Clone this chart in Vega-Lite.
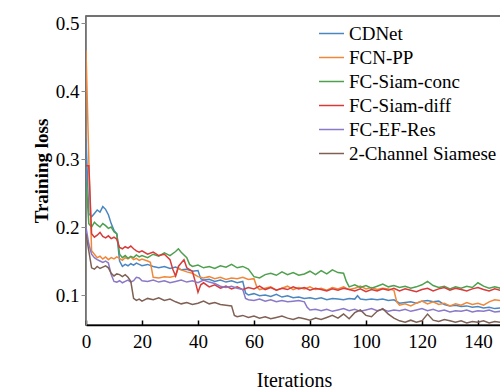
{
"$schema":"https://vega.github.io/schema/vega-lite/v6.json",
"width":416,"height":309,
"autosize":{"type":"none"},
"padding":{"left":86,"top":16,"right":0,"bottom":65},
"view":{"stroke":"#444","strokeWidth":1.5},
"data":{"values":[
{"s":"CDNet","i":0,"v":0.33},{"s":"CDNet","i":1,"v":0.22},{"s":"CDNet","i":2,"v":0.215},{"s":"CDNet","i":3,"v":0.22},{"s":"CDNet","i":4,"v":0.225},{"s":"CDNet","i":5,"v":0.222},{"s":"CDNet","i":6,"v":0.23},{"s":"CDNet","i":7,"v":0.226},{"s":"CDNet","i":8,"v":0.218},{"s":"CDNet","i":9,"v":0.205},{"s":"CDNet","i":10,"v":0.195},{"s":"CDNet","i":11,"v":0.19},{"s":"CDNet","i":12,"v":0.15},{"s":"CDNet","i":13,"v":0.142},{"s":"CDNet","i":14,"v":0.145},{"s":"CDNet","i":15,"v":0.143},{"s":"CDNet","i":16,"v":0.146},{"s":"CDNet","i":17,"v":0.144},{"s":"CDNet","i":18,"v":0.147},{"s":"CDNet","i":19,"v":0.145},{"s":"CDNet","i":20,"v":0.143},{"s":"CDNet","i":22,"v":0.145},{"s":"CDNet","i":24,"v":0.142},{"s":"CDNet","i":26,"v":0.14},{"s":"CDNet","i":28,"v":0.142},{"s":"CDNet","i":30,"v":0.139},{"s":"CDNet","i":32,"v":0.141},{"s":"CDNet","i":34,"v":0.137},{"s":"CDNet","i":36,"v":0.138},{"s":"CDNet","i":38,"v":0.135},{"s":"CDNet","i":40,"v":0.136},{"s":"CDNet","i":41,"v":0.124},{"s":"CDNet","i":42,"v":0.122},{"s":"CDNet","i":44,"v":0.123},{"s":"CDNet","i":46,"v":0.12},{"s":"CDNet","i":48,"v":0.122},{"s":"CDNet","i":50,"v":0.119},{"s":"CDNet","i":52,"v":0.121},{"s":"CDNet","i":54,"v":0.118},{"s":"CDNet","i":56,"v":0.12},{"s":"CDNet","i":57,"v":0.103},{"s":"CDNet","i":58,"v":0.1},{"s":"CDNet","i":60,"v":0.102},{"s":"CDNet","i":62,"v":0.099},{"s":"CDNet","i":64,"v":0.1},{"s":"CDNet","i":66,"v":0.098},{"s":"CDNet","i":68,"v":0.101},{"s":"CDNet","i":70,"v":0.097},{"s":"CDNet","i":72,"v":0.099},{"s":"CDNet","i":74,"v":0.096},{"s":"CDNet","i":76,"v":0.097},{"s":"CDNet","i":78,"v":0.095},{"s":"CDNet","i":80,"v":0.096},{"s":"CDNet","i":82,"v":0.094},{"s":"CDNet","i":84,"v":0.096},{"s":"CDNet","i":86,"v":0.093},{"s":"CDNet","i":88,"v":0.095},{"s":"CDNet","i":90,"v":0.094},{"s":"CDNet","i":92,"v":0.093},{"s":"CDNet","i":94,"v":0.095},{"s":"CDNet","i":96,"v":0.094},{"s":"CDNet","i":97,"v":0.099},{"s":"CDNet","i":98,"v":0.094},{"s":"CDNet","i":100,"v":0.093},{"s":"CDNet","i":102,"v":0.094},{"s":"CDNet","i":104,"v":0.093},{"s":"CDNet","i":106,"v":0.094},{"s":"CDNet","i":108,"v":0.092},{"s":"CDNet","i":110,"v":0.093},{"s":"CDNet","i":112,"v":0.088},{"s":"CDNet","i":114,"v":0.089},{"s":"CDNet","i":116,"v":0.09},{"s":"CDNet","i":118,"v":0.088},{"s":"CDNet","i":120,"v":0.091},{"s":"CDNet","i":122,"v":0.092},{"s":"CDNet","i":124,"v":0.09},{"s":"CDNet","i":126,"v":0.091},{"s":"CDNet","i":128,"v":0.086},{"s":"CDNet","i":130,"v":0.084},{"s":"CDNet","i":132,"v":0.085},{"s":"CDNet","i":134,"v":0.083},{"s":"CDNet","i":136,"v":0.084},{"s":"CDNet","i":138,"v":0.082},{"s":"CDNet","i":140,"v":0.083},{"s":"CDNet","i":142,"v":0.081},{"s":"CDNet","i":144,"v":0.082},{"s":"CDNet","i":146,"v":0.08},{"s":"CDNet","i":148,"v":0.081},
{"s":"FCN-PP","i":0,"v":0.46},{"s":"FCN-PP","i":1,"v":0.3},{"s":"FCN-PP","i":2,"v":0.165},{"s":"FCN-PP","i":3,"v":0.16},{"s":"FCN-PP","i":4,"v":0.155},{"s":"FCN-PP","i":5,"v":0.157},{"s":"FCN-PP","i":6,"v":0.153},{"s":"FCN-PP","i":7,"v":0.156},{"s":"FCN-PP","i":8,"v":0.152},{"s":"FCN-PP","i":9,"v":0.155},{"s":"FCN-PP","i":10,"v":0.153},{"s":"FCN-PP","i":11,"v":0.156},{"s":"FCN-PP","i":12,"v":0.154},{"s":"FCN-PP","i":13,"v":0.151},{"s":"FCN-PP","i":14,"v":0.155},{"s":"FCN-PP","i":15,"v":0.153},{"s":"FCN-PP","i":16,"v":0.156},{"s":"FCN-PP","i":17,"v":0.152},{"s":"FCN-PP","i":18,"v":0.154},{"s":"FCN-PP","i":19,"v":0.151},{"s":"FCN-PP","i":20,"v":0.153},{"s":"FCN-PP","i":22,"v":0.15},{"s":"FCN-PP","i":23,"v":0.148},{"s":"FCN-PP","i":24,"v":0.126},{"s":"FCN-PP","i":26,"v":0.125},{"s":"FCN-PP","i":28,"v":0.127},{"s":"FCN-PP","i":30,"v":0.126},{"s":"FCN-PP","i":32,"v":0.128},{"s":"FCN-PP","i":33,"v":0.14},{"s":"FCN-PP","i":34,"v":0.137},{"s":"FCN-PP","i":36,"v":0.134},{"s":"FCN-PP","i":38,"v":0.132},{"s":"FCN-PP","i":40,"v":0.127},{"s":"FCN-PP","i":42,"v":0.125},{"s":"FCN-PP","i":44,"v":0.127},{"s":"FCN-PP","i":46,"v":0.124},{"s":"FCN-PP","i":48,"v":0.126},{"s":"FCN-PP","i":50,"v":0.123},{"s":"FCN-PP","i":52,"v":0.125},{"s":"FCN-PP","i":54,"v":0.124},{"s":"FCN-PP","i":56,"v":0.126},{"s":"FCN-PP","i":58,"v":0.123},{"s":"FCN-PP","i":60,"v":0.124},{"s":"FCN-PP","i":61,"v":0.112},{"s":"FCN-PP","i":62,"v":0.108},{"s":"FCN-PP","i":64,"v":0.11},{"s":"FCN-PP","i":66,"v":0.112},{"s":"FCN-PP","i":68,"v":0.107},{"s":"FCN-PP","i":70,"v":0.11},{"s":"FCN-PP","i":72,"v":0.113},{"s":"FCN-PP","i":74,"v":0.108},{"s":"FCN-PP","i":76,"v":0.111},{"s":"FCN-PP","i":78,"v":0.109},{"s":"FCN-PP","i":80,"v":0.112},{"s":"FCN-PP","i":82,"v":0.108},{"s":"FCN-PP","i":84,"v":0.11},{"s":"FCN-PP","i":86,"v":0.107},{"s":"FCN-PP","i":88,"v":0.111},{"s":"FCN-PP","i":90,"v":0.109},{"s":"FCN-PP","i":92,"v":0.112},{"s":"FCN-PP","i":94,"v":0.108},{"s":"FCN-PP","i":96,"v":0.11},{"s":"FCN-PP","i":98,"v":0.113},{"s":"FCN-PP","i":100,"v":0.109},{"s":"FCN-PP","i":102,"v":0.111},{"s":"FCN-PP","i":104,"v":0.108},{"s":"FCN-PP","i":106,"v":0.11},{"s":"FCN-PP","i":108,"v":0.109},{"s":"FCN-PP","i":110,"v":0.107},{"s":"FCN-PP","i":111,"v":0.09},{"s":"FCN-PP","i":112,"v":0.085},{"s":"FCN-PP","i":114,"v":0.087},{"s":"FCN-PP","i":116,"v":0.084},{"s":"FCN-PP","i":118,"v":0.088},{"s":"FCN-PP","i":120,"v":0.091},{"s":"FCN-PP","i":122,"v":0.087},{"s":"FCN-PP","i":124,"v":0.09},{"s":"FCN-PP","i":126,"v":0.086},{"s":"FCN-PP","i":128,"v":0.088},{"s":"FCN-PP","i":130,"v":0.084},{"s":"FCN-PP","i":132,"v":0.087},{"s":"FCN-PP","i":134,"v":0.085},{"s":"FCN-PP","i":136,"v":0.089},{"s":"FCN-PP","i":138,"v":0.086},{"s":"FCN-PP","i":140,"v":0.088},{"s":"FCN-PP","i":142,"v":0.085},{"s":"FCN-PP","i":144,"v":0.09},{"s":"FCN-PP","i":146,"v":0.093},{"s":"FCN-PP","i":148,"v":0.092},
{"s":"FC-Siam-conc","i":0,"v":0.27},{"s":"FC-Siam-conc","i":1,"v":0.205},{"s":"FC-Siam-conc","i":2,"v":0.2},{"s":"FC-Siam-conc","i":3,"v":0.207},{"s":"FC-Siam-conc","i":4,"v":0.203},{"s":"FC-Siam-conc","i":5,"v":0.2},{"s":"FC-Siam-conc","i":6,"v":0.205},{"s":"FC-Siam-conc","i":7,"v":0.202},{"s":"FC-Siam-conc","i":8,"v":0.198},{"s":"FC-Siam-conc","i":9,"v":0.2},{"s":"FC-Siam-conc","i":10,"v":0.193},{"s":"FC-Siam-conc","i":11,"v":0.19},{"s":"FC-Siam-conc","i":12,"v":0.16},{"s":"FC-Siam-conc","i":13,"v":0.155},{"s":"FC-Siam-conc","i":14,"v":0.158},{"s":"FC-Siam-conc","i":15,"v":0.154},{"s":"FC-Siam-conc","i":16,"v":0.157},{"s":"FC-Siam-conc","i":17,"v":0.155},{"s":"FC-Siam-conc","i":18,"v":0.159},{"s":"FC-Siam-conc","i":19,"v":0.156},{"s":"FC-Siam-conc","i":20,"v":0.158},{"s":"FC-Siam-conc","i":22,"v":0.155},{"s":"FC-Siam-conc","i":24,"v":0.16},{"s":"FC-Siam-conc","i":26,"v":0.157},{"s":"FC-Siam-conc","i":28,"v":0.162},{"s":"FC-Siam-conc","i":30,"v":0.158},{"s":"FC-Siam-conc","i":32,"v":0.164},{"s":"FC-Siam-conc","i":33,"v":0.168},{"s":"FC-Siam-conc","i":34,"v":0.163},{"s":"FC-Siam-conc","i":36,"v":0.155},{"s":"FC-Siam-conc","i":37,"v":0.145},{"s":"FC-Siam-conc","i":38,"v":0.142},{"s":"FC-Siam-conc","i":40,"v":0.144},{"s":"FC-Siam-conc","i":42,"v":0.14},{"s":"FC-Siam-conc","i":44,"v":0.142},{"s":"FC-Siam-conc","i":46,"v":0.139},{"s":"FC-Siam-conc","i":48,"v":0.143},{"s":"FC-Siam-conc","i":50,"v":0.141},{"s":"FC-Siam-conc","i":52,"v":0.145},{"s":"FC-Siam-conc","i":54,"v":0.14},{"s":"FC-Siam-conc","i":56,"v":0.142},{"s":"FC-Siam-conc","i":58,"v":0.138},{"s":"FC-Siam-conc","i":60,"v":0.127},{"s":"FC-Siam-conc","i":62,"v":0.125},{"s":"FC-Siam-conc","i":64,"v":0.13},{"s":"FC-Siam-conc","i":66,"v":0.132},{"s":"FC-Siam-conc","i":68,"v":0.129},{"s":"FC-Siam-conc","i":70,"v":0.134},{"s":"FC-Siam-conc","i":72,"v":0.13},{"s":"FC-Siam-conc","i":74,"v":0.133},{"s":"FC-Siam-conc","i":76,"v":0.129},{"s":"FC-Siam-conc","i":78,"v":0.131},{"s":"FC-Siam-conc","i":80,"v":0.135},{"s":"FC-Siam-conc","i":82,"v":0.13},{"s":"FC-Siam-conc","i":84,"v":0.136},{"s":"FC-Siam-conc","i":86,"v":0.131},{"s":"FC-Siam-conc","i":88,"v":0.137},{"s":"FC-Siam-conc","i":90,"v":0.133},{"s":"FC-Siam-conc","i":92,"v":0.132},{"s":"FC-Siam-conc","i":93,"v":0.12},{"s":"FC-Siam-conc","i":94,"v":0.112},{"s":"FC-Siam-conc","i":96,"v":0.115},{"s":"FC-Siam-conc","i":98,"v":0.111},{"s":"FC-Siam-conc","i":100,"v":0.114},{"s":"FC-Siam-conc","i":102,"v":0.11},{"s":"FC-Siam-conc","i":104,"v":0.113},{"s":"FC-Siam-conc","i":106,"v":0.116},{"s":"FC-Siam-conc","i":108,"v":0.112},{"s":"FC-Siam-conc","i":110,"v":0.114},{"s":"FC-Siam-conc","i":112,"v":0.111},{"s":"FC-Siam-conc","i":114,"v":0.113},{"s":"FC-Siam-conc","i":116,"v":0.11},{"s":"FC-Siam-conc","i":118,"v":0.112},{"s":"FC-Siam-conc","i":120,"v":0.115},{"s":"FC-Siam-conc","i":122,"v":0.12},{"s":"FC-Siam-conc","i":124,"v":0.114},{"s":"FC-Siam-conc","i":126,"v":0.111},{"s":"FC-Siam-conc","i":128,"v":0.113},{"s":"FC-Siam-conc","i":130,"v":0.109},{"s":"FC-Siam-conc","i":132,"v":0.112},{"s":"FC-Siam-conc","i":134,"v":0.11},{"s":"FC-Siam-conc","i":136,"v":0.113},{"s":"FC-Siam-conc","i":138,"v":0.111},{"s":"FC-Siam-conc","i":140,"v":0.118},{"s":"FC-Siam-conc","i":142,"v":0.113},{"s":"FC-Siam-conc","i":144,"v":0.11},{"s":"FC-Siam-conc","i":146,"v":0.112},{"s":"FC-Siam-conc","i":148,"v":0.11},
{"s":"FC-Siam-diff","i":0,"v":0.29},{"s":"FC-Siam-diff","i":1,"v":0.29},{"s":"FC-Siam-diff","i":2,"v":0.19},{"s":"FC-Siam-diff","i":3,"v":0.185},{"s":"FC-Siam-diff","i":4,"v":0.188},{"s":"FC-Siam-diff","i":5,"v":0.192},{"s":"FC-Siam-diff","i":6,"v":0.186},{"s":"FC-Siam-diff","i":7,"v":0.184},{"s":"FC-Siam-diff","i":8,"v":0.187},{"s":"FC-Siam-diff","i":9,"v":0.183},{"s":"FC-Siam-diff","i":10,"v":0.185},{"s":"FC-Siam-diff","i":11,"v":0.182},{"s":"FC-Siam-diff","i":12,"v":0.17},{"s":"FC-Siam-diff","i":13,"v":0.168},{"s":"FC-Siam-diff","i":14,"v":0.171},{"s":"FC-Siam-diff","i":15,"v":0.169},{"s":"FC-Siam-diff","i":16,"v":0.172},{"s":"FC-Siam-diff","i":17,"v":0.168},{"s":"FC-Siam-diff","i":18,"v":0.165},{"s":"FC-Siam-diff","i":19,"v":0.163},{"s":"FC-Siam-diff","i":20,"v":0.165},{"s":"FC-Siam-diff","i":22,"v":0.16},{"s":"FC-Siam-diff","i":24,"v":0.163},{"s":"FC-Siam-diff","i":26,"v":0.158},{"s":"FC-Siam-diff","i":28,"v":0.16},{"s":"FC-Siam-diff","i":30,"v":0.152},{"s":"FC-Siam-diff","i":31,"v":0.138},{"s":"FC-Siam-diff","i":32,"v":0.128},{"s":"FC-Siam-diff","i":33,"v":0.142},{"s":"FC-Siam-diff","i":34,"v":0.147},{"s":"FC-Siam-diff","i":35,"v":0.152},{"s":"FC-Siam-diff","i":36,"v":0.14},{"s":"FC-Siam-diff","i":38,"v":0.135},{"s":"FC-Siam-diff","i":39,"v":0.12},{"s":"FC-Siam-diff","i":40,"v":0.104},{"s":"FC-Siam-diff","i":41,"v":0.115},{"s":"FC-Siam-diff","i":42,"v":0.118},{"s":"FC-Siam-diff","i":44,"v":0.112},{"s":"FC-Siam-diff","i":46,"v":0.115},{"s":"FC-Siam-diff","i":48,"v":0.11},{"s":"FC-Siam-diff","i":50,"v":0.113},{"s":"FC-Siam-diff","i":52,"v":0.109},{"s":"FC-Siam-diff","i":54,"v":0.112},{"s":"FC-Siam-diff","i":56,"v":0.108},{"s":"FC-Siam-diff","i":58,"v":0.111},{"s":"FC-Siam-diff","i":60,"v":0.109},{"s":"FC-Siam-diff","i":62,"v":0.113},{"s":"FC-Siam-diff","i":64,"v":0.108},{"s":"FC-Siam-diff","i":66,"v":0.111},{"s":"FC-Siam-diff","i":68,"v":0.107},{"s":"FC-Siam-diff","i":70,"v":0.11},{"s":"FC-Siam-diff","i":72,"v":0.108},{"s":"FC-Siam-diff","i":74,"v":0.112},{"s":"FC-Siam-diff","i":76,"v":0.109},{"s":"FC-Siam-diff","i":78,"v":0.111},{"s":"FC-Siam-diff","i":80,"v":0.107},{"s":"FC-Siam-diff","i":82,"v":0.11},{"s":"FC-Siam-diff","i":84,"v":0.108},{"s":"FC-Siam-diff","i":86,"v":0.106},{"s":"FC-Siam-diff","i":88,"v":0.109},{"s":"FC-Siam-diff","i":90,"v":0.107},{"s":"FC-Siam-diff","i":92,"v":0.11},{"s":"FC-Siam-diff","i":94,"v":0.108},{"s":"FC-Siam-diff","i":96,"v":0.106},{"s":"FC-Siam-diff","i":98,"v":0.109},{"s":"FC-Siam-diff","i":100,"v":0.105},{"s":"FC-Siam-diff","i":102,"v":0.108},{"s":"FC-Siam-diff","i":104,"v":0.106},{"s":"FC-Siam-diff","i":106,"v":0.109},{"s":"FC-Siam-diff","i":108,"v":0.107},{"s":"FC-Siam-diff","i":110,"v":0.11},{"s":"FC-Siam-diff","i":112,"v":0.106},{"s":"FC-Siam-diff","i":114,"v":0.109},{"s":"FC-Siam-diff","i":116,"v":0.107},{"s":"FC-Siam-diff","i":118,"v":0.105},{"s":"FC-Siam-diff","i":120,"v":0.108},{"s":"FC-Siam-diff","i":122,"v":0.11},{"s":"FC-Siam-diff","i":124,"v":0.106},{"s":"FC-Siam-diff","i":126,"v":0.109},{"s":"FC-Siam-diff","i":128,"v":0.111},{"s":"FC-Siam-diff","i":130,"v":0.107},{"s":"FC-Siam-diff","i":132,"v":0.11},{"s":"FC-Siam-diff","i":134,"v":0.108},{"s":"FC-Siam-diff","i":136,"v":0.106},{"s":"FC-Siam-diff","i":138,"v":0.109},{"s":"FC-Siam-diff","i":140,"v":0.111},{"s":"FC-Siam-diff","i":142,"v":0.108},{"s":"FC-Siam-diff","i":144,"v":0.106},{"s":"FC-Siam-diff","i":146,"v":0.109},{"s":"FC-Siam-diff","i":148,"v":0.107},
{"s":"FC-EF-Res","i":0,"v":0.2},{"s":"FC-EF-Res","i":1,"v":0.175},{"s":"FC-EF-Res","i":2,"v":0.16},{"s":"FC-EF-Res","i":3,"v":0.155},{"s":"FC-EF-Res","i":4,"v":0.152},{"s":"FC-EF-Res","i":5,"v":0.15},{"s":"FC-EF-Res","i":6,"v":0.148},{"s":"FC-EF-Res","i":7,"v":0.15},{"s":"FC-EF-Res","i":8,"v":0.147},{"s":"FC-EF-Res","i":9,"v":0.13},{"s":"FC-EF-Res","i":10,"v":0.12},{"s":"FC-EF-Res","i":11,"v":0.119},{"s":"FC-EF-Res","i":12,"v":0.121},{"s":"FC-EF-Res","i":13,"v":0.118},{"s":"FC-EF-Res","i":14,"v":0.12},{"s":"FC-EF-Res","i":15,"v":0.122},{"s":"FC-EF-Res","i":16,"v":0.119},{"s":"FC-EF-Res","i":17,"v":0.121},{"s":"FC-EF-Res","i":18,"v":0.126},{"s":"FC-EF-Res","i":19,"v":0.125},{"s":"FC-EF-Res","i":20,"v":0.121},{"s":"FC-EF-Res","i":22,"v":0.12},{"s":"FC-EF-Res","i":24,"v":0.122},{"s":"FC-EF-Res","i":26,"v":0.119},{"s":"FC-EF-Res","i":28,"v":0.121},{"s":"FC-EF-Res","i":30,"v":0.118},{"s":"FC-EF-Res","i":32,"v":0.12},{"s":"FC-EF-Res","i":34,"v":0.122},{"s":"FC-EF-Res","i":36,"v":0.119},{"s":"FC-EF-Res","i":38,"v":0.121},{"s":"FC-EF-Res","i":40,"v":0.118},{"s":"FC-EF-Res","i":42,"v":0.122},{"s":"FC-EF-Res","i":44,"v":0.119},{"s":"FC-EF-Res","i":46,"v":0.117},{"s":"FC-EF-Res","i":48,"v":0.113},{"s":"FC-EF-Res","i":50,"v":0.111},{"s":"FC-EF-Res","i":52,"v":0.113},{"s":"FC-EF-Res","i":54,"v":0.11},{"s":"FC-EF-Res","i":56,"v":0.108},{"s":"FC-EF-Res","i":57,"v":0.095},{"s":"FC-EF-Res","i":58,"v":0.093},{"s":"FC-EF-Res","i":60,"v":0.092},{"s":"FC-EF-Res","i":62,"v":0.094},{"s":"FC-EF-Res","i":64,"v":0.091},{"s":"FC-EF-Res","i":66,"v":0.093},{"s":"FC-EF-Res","i":68,"v":0.09},{"s":"FC-EF-Res","i":70,"v":0.092},{"s":"FC-EF-Res","i":72,"v":0.09},{"s":"FC-EF-Res","i":74,"v":0.091},{"s":"FC-EF-Res","i":76,"v":0.092},{"s":"FC-EF-Res","i":78,"v":0.09},{"s":"FC-EF-Res","i":79,"v":0.082},{"s":"FC-EF-Res","i":80,"v":0.078},{"s":"FC-EF-Res","i":82,"v":0.079},{"s":"FC-EF-Res","i":84,"v":0.077},{"s":"FC-EF-Res","i":86,"v":0.079},{"s":"FC-EF-Res","i":88,"v":0.076},{"s":"FC-EF-Res","i":90,"v":0.078},{"s":"FC-EF-Res","i":92,"v":0.08},{"s":"FC-EF-Res","i":94,"v":0.077},{"s":"FC-EF-Res","i":96,"v":0.079},{"s":"FC-EF-Res","i":98,"v":0.076},{"s":"FC-EF-Res","i":100,"v":0.078},{"s":"FC-EF-Res","i":102,"v":0.08},{"s":"FC-EF-Res","i":104,"v":0.077},{"s":"FC-EF-Res","i":106,"v":0.079},{"s":"FC-EF-Res","i":108,"v":0.076},{"s":"FC-EF-Res","i":110,"v":0.078},{"s":"FC-EF-Res","i":112,"v":0.077},{"s":"FC-EF-Res","i":114,"v":0.079},{"s":"FC-EF-Res","i":116,"v":0.076},{"s":"FC-EF-Res","i":118,"v":0.078},{"s":"FC-EF-Res","i":120,"v":0.08},{"s":"FC-EF-Res","i":122,"v":0.077},{"s":"FC-EF-Res","i":124,"v":0.079},{"s":"FC-EF-Res","i":126,"v":0.076},{"s":"FC-EF-Res","i":128,"v":0.078},{"s":"FC-EF-Res","i":130,"v":0.075},{"s":"FC-EF-Res","i":132,"v":0.077},{"s":"FC-EF-Res","i":134,"v":0.076},{"s":"FC-EF-Res","i":136,"v":0.078},{"s":"FC-EF-Res","i":138,"v":0.075},{"s":"FC-EF-Res","i":140,"v":0.077},{"s":"FC-EF-Res","i":142,"v":0.076},{"s":"FC-EF-Res","i":144,"v":0.078},{"s":"FC-EF-Res","i":146,"v":0.075},{"s":"FC-EF-Res","i":148,"v":0.076},
{"s":"2-Channel Siamese","i":0,"v":0.19},{"s":"2-Channel Siamese","i":1,"v":0.165},{"s":"2-Channel Siamese","i":2,"v":0.14},{"s":"2-Channel Siamese","i":3,"v":0.138},{"s":"2-Channel Siamese","i":4,"v":0.142},{"s":"2-Channel Siamese","i":5,"v":0.139},{"s":"2-Channel Siamese","i":6,"v":0.141},{"s":"2-Channel Siamese","i":7,"v":0.143},{"s":"2-Channel Siamese","i":8,"v":0.14},{"s":"2-Channel Siamese","i":9,"v":0.132},{"s":"2-Channel Siamese","i":10,"v":0.128},{"s":"2-Channel Siamese","i":11,"v":0.131},{"s":"2-Channel Siamese","i":12,"v":0.13},{"s":"2-Channel Siamese","i":13,"v":0.127},{"s":"2-Channel Siamese","i":14,"v":0.13},{"s":"2-Channel Siamese","i":15,"v":0.126},{"s":"2-Channel Siamese","i":16,"v":0.12},{"s":"2-Channel Siamese","i":17,"v":0.095},{"s":"2-Channel Siamese","i":18,"v":0.092},{"s":"2-Channel Siamese","i":19,"v":0.094},{"s":"2-Channel Siamese","i":20,"v":0.091},{"s":"2-Channel Siamese","i":22,"v":0.095},{"s":"2-Channel Siamese","i":24,"v":0.093},{"s":"2-Channel Siamese","i":26,"v":0.096},{"s":"2-Channel Siamese","i":28,"v":0.092},{"s":"2-Channel Siamese","i":30,"v":0.094},{"s":"2-Channel Siamese","i":32,"v":0.09},{"s":"2-Channel Siamese","i":34,"v":0.087},{"s":"2-Channel Siamese","i":36,"v":0.089},{"s":"2-Channel Siamese","i":38,"v":0.086},{"s":"2-Channel Siamese","i":40,"v":0.088},{"s":"2-Channel Siamese","i":42,"v":0.091},{"s":"2-Channel Siamese","i":44,"v":0.087},{"s":"2-Channel Siamese","i":46,"v":0.089},{"s":"2-Channel Siamese","i":48,"v":0.086},{"s":"2-Channel Siamese","i":50,"v":0.085},{"s":"2-Channel Siamese","i":52,"v":0.084},{"s":"2-Channel Siamese","i":53,"v":0.07},{"s":"2-Channel Siamese","i":54,"v":0.068},{"s":"2-Channel Siamese","i":56,"v":0.07},{"s":"2-Channel Siamese","i":58,"v":0.067},{"s":"2-Channel Siamese","i":60,"v":0.069},{"s":"2-Channel Siamese","i":62,"v":0.066},{"s":"2-Channel Siamese","i":64,"v":0.068},{"s":"2-Channel Siamese","i":66,"v":0.065},{"s":"2-Channel Siamese","i":68,"v":0.067},{"s":"2-Channel Siamese","i":70,"v":0.069},{"s":"2-Channel Siamese","i":72,"v":0.066},{"s":"2-Channel Siamese","i":74,"v":0.064},{"s":"2-Channel Siamese","i":76,"v":0.067},{"s":"2-Channel Siamese","i":78,"v":0.065},{"s":"2-Channel Siamese","i":80,"v":0.063},{"s":"2-Channel Siamese","i":82,"v":0.066},{"s":"2-Channel Siamese","i":84,"v":0.064},{"s":"2-Channel Siamese","i":86,"v":0.067},{"s":"2-Channel Siamese","i":88,"v":0.07},{"s":"2-Channel Siamese","i":90,"v":0.066},{"s":"2-Channel Siamese","i":92,"v":0.072},{"s":"2-Channel Siamese","i":94,"v":0.065},{"s":"2-Channel Siamese","i":96,"v":0.074},{"s":"2-Channel Siamese","i":98,"v":0.078},{"s":"2-Channel Siamese","i":100,"v":0.07},{"s":"2-Channel Siamese","i":102,"v":0.068},{"s":"2-Channel Siamese","i":104,"v":0.076},{"s":"2-Channel Siamese","i":106,"v":0.08},{"s":"2-Channel Siamese","i":108,"v":0.072},{"s":"2-Channel Siamese","i":110,"v":0.066},{"s":"2-Channel Siamese","i":112,"v":0.062},{"s":"2-Channel Siamese","i":114,"v":0.06},{"s":"2-Channel Siamese","i":116,"v":0.063},{"s":"2-Channel Siamese","i":118,"v":0.06},{"s":"2-Channel Siamese","i":120,"v":0.062},{"s":"2-Channel Siamese","i":122,"v":0.072},{"s":"2-Channel Siamese","i":124,"v":0.063},{"s":"2-Channel Siamese","i":126,"v":0.061},{"s":"2-Channel Siamese","i":128,"v":0.064},{"s":"2-Channel Siamese","i":130,"v":0.062},{"s":"2-Channel Siamese","i":132,"v":0.06},{"s":"2-Channel Siamese","i":134,"v":0.062},{"s":"2-Channel Siamese","i":136,"v":0.059},{"s":"2-Channel Siamese","i":138,"v":0.061},{"s":"2-Channel Siamese","i":140,"v":0.06},{"s":"2-Channel Siamese","i":142,"v":0.062},{"s":"2-Channel Siamese","i":144,"v":0.059},{"s":"2-Channel Siamese","i":146,"v":0.061},{"s":"2-Channel Siamese","i":148,"v":0.06}
]},
"mark":{"type":"line","strokeWidth":1.5,"clip":true},
"encoding":{
"x":{"field":"i","type":"quantitative","scale":{"domain":[0,148.6],"nice":false,"zero":false},
"axis":{"title":"Iterations","values":[0,20,40,60,80,100,120,140],"grid":false,"tickSize":-5,"labelPadding":12,"labelFlush":false,"labelFont":"Liberation Serif","titleFont":"Liberation Serif","domainColor":"black","tickColor":"black","domainWidth":1.5,"tickWidth":1.5,"labelFontSize":19,"titleColor":"black","titleFontSize":20,"titleFontWeight":"normal","titleBaseline":"middle","titleY":55}},
"y":{"field":"v","type":"quantitative","scale":{"domain":[0.0559,0.5103],"nice":false,"zero":false},
"axis":{"title":"Training loss","labelFont":"Liberation Serif","labelFontSize":19,"titleFont":"Liberation Serif","titleFontSize":19,"values":[0.1,0.2,0.3,0.4,0.5],"grid":false}},
"color":{"field":"s","type":"nominal","scale":{"domain":["CDNet","FCN-PP","FC-Siam-conc","FC-Siam-diff","FC-EF-Res","2-Channel Siamese"],"range":["#4a87c0","#f0883a","#4ea04e","#d93a3a","#8a78c8","#7f6055"]},
"legend":{"title":null,"orient":"none","legendX":232,"legendY":4,"labelFont":"serif","labelFontSize":19,"rowPadding":-8,"symbolType":"stroke","symbolSize":625}}
}
}
